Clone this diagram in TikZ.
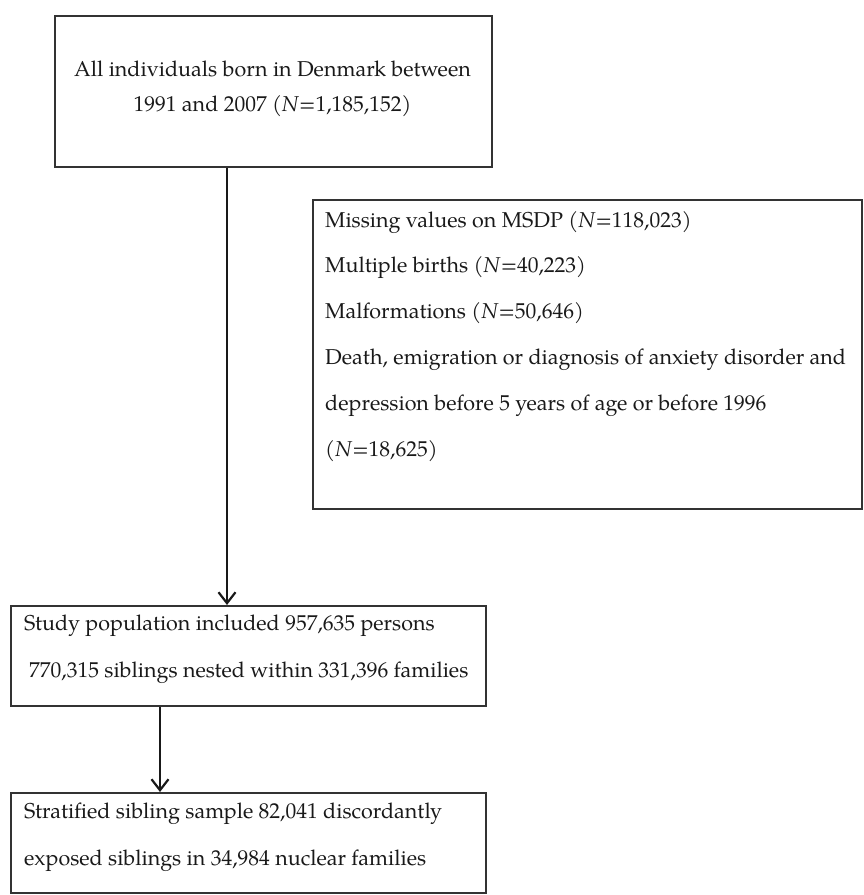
\documentclass[tikz,border=0pt]{standalone}
\usepackage{fontspec}
\setmainfont{TeX Gyre Pagella}
\usetikzlibrary{arrows.meta}
\begin{document}
\begin{tikzpicture}[x=1pt,y=-1pt,
  box/.style={draw=black!80,line width=1.8pt,inner sep=0pt,anchor=north west},
  txt/.style={inner sep=0pt,font=\fontsize{21.5}{26}\selectfont,text=black!90},
  arr/.style={draw=black!90,line width=2pt,-{Straight Barb[length=11pt,width=17pt,line width=2.2pt]}}]
\useasboundingbox (0,0) rectangle (864,895);
% boxes
\node[box,minimum width=437pt,minimum height=151pt] (b1) at (54,15) {};
\node[box,minimum width=549pt,minimum height=309pt] (b2) at (312,199) {};
\node[box,minimum width=475pt,minimum height=100pt] (b3) at (10,605) {};
\node[box,minimum width=475pt,minimum height=100pt] (b4) at (10,792) {};
% texts
\node[txt,anchor=base] (t1a) at (272.5,76) {All individuals born in Denmark between};
\node[txt,anchor=base] (t1b) at (272.5,111) {1991 and 2007 (\textit{N}=1,185,152)};
\node[txt,anchor=base west] (t2a) at (325,227) {Missing values on MSDP (\textit{N}=118,023)};
\node[txt,anchor=base west] (t2b) at (325,272.5) {Multiple births (\textit{N}=40,223)};
\node[txt,anchor=base west] (t2c) at (325,318) {Malformations (\textit{N}=50,646)};
\node[txt,anchor=base west] (t2d) at (325,364) {Death, emigration or diagnosis of anxiety disorder and};
\node[txt,anchor=base west] (t2e) at (325,410) {depression before 5 years of age or before 1996};
\node[txt,anchor=base west] (t2f) at (325,456) {(\textit{N}=18,625)};
\node[txt,anchor=base west] (t3a) at (24,630) {Study population included 957,635 persons};
\node[txt,anchor=base west] (t3b) at (29,677) {770,315 siblings nested within 331,396 families};
\node[txt,anchor=base west] (t4a) at (24,818) {Stratified sibling sample 82,041 discordantly};
\node[txt,anchor=base west] (t4b) at (24,865) {exposed siblings in 34,984 nuclear families};
% connectors
\coordinate (c1) at (227,0);
\coordinate (c2) at (160,0);
\draw[arr] (b1.south -| c1) -- (b3.north -| c1);
\draw[arr] (b3.south -| c2) -- (b4.north -| c2);
\end{tikzpicture}
\end{document}
